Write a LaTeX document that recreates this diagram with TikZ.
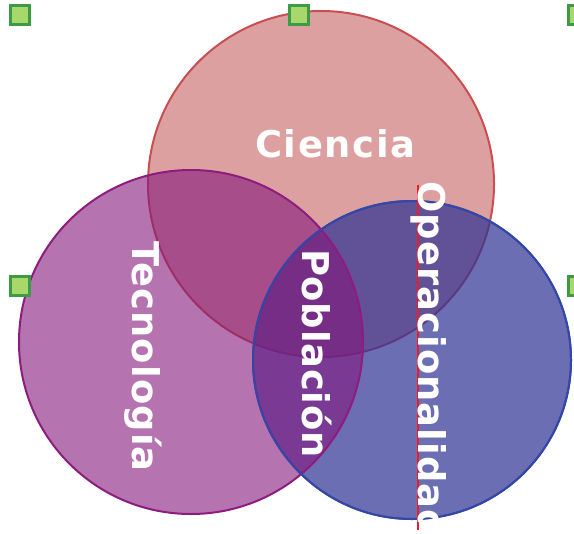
\documentclass[tikz,border=0pt]{standalone}
\usepackage{fontspec}
\setsansfont{DejaVu Sans}
\definecolor{vennRed}{HTML}{C66161}
\definecolor{vennRedLine}{HTML}{C84E52}
\definecolor{vennPurple}{HTML}{84177B}
\definecolor{vennPurpleLine}{HTML}{8E1C7E}
\definecolor{vennBlue}{HTML}{2D3194}
\definecolor{vennBlueLine}{HTML}{3447A6}
\definecolor{handleFill}{HTML}{A8D86C}
\definecolor{handleLine}{HTML}{3E9B45}
\definecolor{guideRed}{HTML}{EE1C25}
\begin{document}
\begin{tikzpicture}[x=1bp,y=-1bp,
    venn/.style={circle,inner sep=0pt,outer sep=0pt,line width=2bp,
                 minimum size=2*#1},
    lbl/.style={text=white,inner sep=0pt,
                font=\sffamily\bfseries\fontsize{37}{40}\selectfont\addfontfeature{LetterSpace=#1}},
    lbl/.default=3,
    handle/.style={rectangle,draw=handleLine,fill=handleFill,line width=3bp,
                   minimum size=19bp,inner sep=0pt}]
  \useasboundingbox (0,0) rectangle (574,534);
  % the three sets
  \node[venn=173bp,draw=vennRedLine,fill=vennRed,fill opacity=0.6]      (cien) at (321,184) {};
  \node[venn=159bp,draw=vennBlueLine,fill=vennBlue,fill opacity=0.7]    (oper) at (412,360) {};
  \node[venn=172bp,draw=vennPurpleLine,fill=vennPurple,fill opacity=0.6] (tecn) at (191,342) {};
  \draw[vennBlueLine,line width=2bp] (oper.center) circle[radius=159bp];
  % guide line
  \coordinate (g1) at (418,185);
  \coordinate (g2) at (418,530);
  \draw[guideRed,line width=2.5bp] (g1) -- (g2);
  % labels
  \node[lbl=4.5,anchor=base west] (l-cien) at (255,158) {Ciencia};
  \node[lbl,rotate=-90,anchor=base west] (l-tecn) at (132,241) {Tecnología};
  \node[lbl=2,rotate=-90,anchor=base west] (l-pobl) at (302,249) {Población};
  \begin{scope}
    \clip (390,170) rectangle (480,521);
    \node[lbl,rotate=-90,anchor=base west] (l-oper) at (418,181) {Operacionalidad};
  \end{scope}
  % selection handles
  \node[handle] (h1) at (20,15) {};
  \node[handle] (h2) at (299,15) {};
  \node[handle] (h3) at (578,15) {};
  \node[handle] (h4) at (20,286) {};
  \node[handle] (h5) at (578,286) {};
\end{tikzpicture}
\end{document}
